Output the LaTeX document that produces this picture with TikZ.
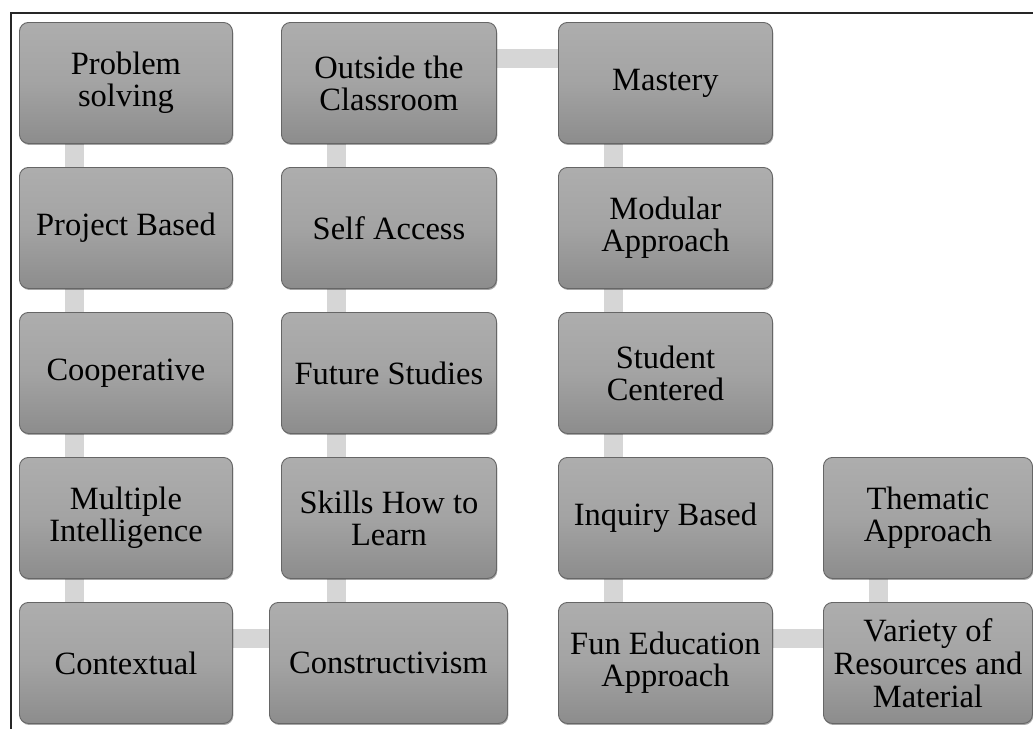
\documentclass[tikz,border=0pt]{standalone}
\usepackage{fontspec}
\setmainfont{Liberation Serif}
\usetikzlibrary{backgrounds,shadows,calc}
\tikzset{
  box/.style={draw=black!60, line width=0.9pt, rounded corners=9pt,
    top color=black!32, bottom color=black!45, middle color=black!36,
    anchor=north west, minimum height=121pt, align=center, inner sep=2pt,
    font=\fontsize{32.5}{32}\selectfont, text=black,
    drop shadow={shadow xshift=0.8pt, shadow yshift=-1.5pt, opacity=0.35, fill=black}},
  conn/.style={draw=black!16, line width=19pt},
  frame/.style={draw=black!85, line width=2pt}
}
\begin{document}
\begin{tikzpicture}[x=1pt,y=-1pt]
\useasboundingbox (0,0) rectangle (1033,728);
\draw[frame] (10.5,740) -- (10.5,13) -- (1045,13);
% column 1
\node[box, minimum width=213pt] (ps) at (19,22) {Problem\\solving};
\node[box, minimum width=213pt] (pb) at (19,167) {Project Based};
\node[box, minimum width=213pt] (co) at (19,312) {Cooperative};
\node[box, minimum width=213pt] (mi) at (19,457) {Multiple\\Intelligence};
\node[box, minimum width=213pt] (cx) at (19,602) {Contextual};
% column 2
\node[box, minimum width=215pt] (ot) at (281,22) {Outside the\\Classroom};
\node[box, minimum width=215pt] (sa) at (281,167) {Self Access};
\node[box, minimum width=215pt] (fs) at (281,312) {Future Studies};
\node[box, minimum width=215pt] (sh) at (281,457) {Skills How to\\Learn};
\node[box, minimum width=238pt] (cn) at (269,602) {Constructivism};
% column 3
\node[box, minimum width=214pt] (ma) at (558,22) {Mastery};
\node[box, minimum width=214pt] (mo) at (558,167) {Modular\\Approach};
\node[box, minimum width=214pt] (sc) at (558,312) {Student\\Centered};
\node[box, minimum width=214pt] (ib) at (558,457) {Inquiry Based};
\node[box, minimum width=214pt] (fe) at (558,602) {Fun Education\\Approach};
% column 4
\node[box, minimum width=209pt] (th) at (823,457) {Thematic\\Approach};
\node[box, minimum width=209pt, font=\fontsize{32.5}{33}\selectfont] (vr) at (823,602) {Variety of\\Resources and\\Material};
\begin{pgfonlayer}{background}
\foreach \a/\b in {ps/pb,pb/co,co/mi,mi/cx,ot/sa,sa/fs,fs/sh,sh/cn,ma/mo,mo/sc,sc/ib,ib/fe,th/vr}{
  \draw[conn] ([xshift=55pt]\a.south west) -- ([xshift=55pt]\a.south west |- \b.north);
}
\foreach \a/\b in {cx/cn,ot/ma,fe/vr}{
  \draw[conn] ([yshift=-36pt]\a.north east) -- ([yshift=-36pt]\a.north east -| \b.west);
}
\end{pgfonlayer}
\end{tikzpicture}
\end{document}
